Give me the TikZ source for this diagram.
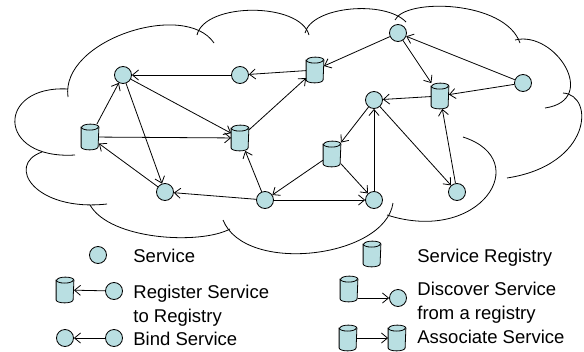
\documentclass[tikz,border=0pt]{standalone}
\usepackage{fontspec}
\setmainfont{Liberation Sans}
\usetikzlibrary{arrows.meta}
\definecolor{svcfill}{RGB}{185,223,226}
\begin{document}
\begin{tikzpicture}[x=1pt,y=-1pt,line width=0.8pt,
    service/.style={shape=circle, draw, fill=svcfill, minimum size=17pt, inner sep=0pt},
    registry/.style={shape=rectangle, minimum width=17pt, minimum height=25pt, inner sep=0pt,
        append after command={\pgfextra{
            \draw[fill=svcfill] ([yshift=-3pt]\tikzlastnode.north west)
                -- ([yshift=3pt]\tikzlastnode.south west)
                arc[start angle=180, end angle=360, x radius=8.5pt, y radius=3pt]
                -- ([yshift=-3pt]\tikzlastnode.north east)
                arc[start angle=0, end angle=180, x radius=8.5pt, y radius=3pt] -- cycle;
            \draw ([yshift=-3pt]\tikzlastnode.north west)
                arc[start angle=180, end angle=360, x radius=8.5pt, y radius=3pt];
        }}},
    link/.style={-{Straight Barb[length=6pt,width=10pt]}},
    legendtext/.style={anchor=base west, align=left, inner sep=0pt, font=\fontsize{18.5}{24}\selectfont}]
    \useasboundingbox (0,0) rectangle (584,351);
    \draw (68,89) .. controls (-4,85) and (-4,160) .. (75,155);
    \draw (68,97) .. controls (60,40) and (185,0) .. (214,43);
    \draw (197,35) .. controls (205,2) and (300,2) .. (309,35);
    \draw (305,33) .. controls (312,6) and (385,0) .. (406,22);
    \draw (395,20) .. controls (405,-2) and (505,0) .. (520,43);
    \draw (515,40) .. controls (555,30) and (600,100) .. (545,108);
    \draw (563,93) .. controls (595,95) and (592,165) .. (507,178);
    \draw (463,137) .. controls (535,160) and (480,245) .. (387,215);
    \draw (393,203) .. controls (385,258) and (245,275) .. (223,220);
    \draw (90,205) .. controls (110,240) and (200,245) .. (230,229);
    \draw (42,152) .. controls (5,165) and (35,212) .. (107,204);
    \node[service] (s1) at (123,75) {};
    \node[service] (s2) at (240,75) {};
    \node[service] (s3) at (398,33) {};
    \node[service] (s4) at (374,100) {};
    \node[service] (s5) at (523,83) {};
    \node[service] (s6) at (165,192) {};
    \node[service] (s7) at (265,200) {};
    \node[service] (s8) at (374,200) {};
    \node[service] (s9) at (457,192) {};
    \node[registry] (r1) at (90,137) {};
    \node[registry] (r2) at (240,138) {};
    \node[registry] (r3) at (315,70) {};
    \node[registry] (r4) at (440,96) {};
    \node[registry] (r5) at (332,154) {};
    \draw[link] (s2) -- (s1);
    \draw[link] (r3) -- (s2);
    \draw[link] (r1) -- (s1);
    \draw[link] (r1) -- (r2);
    \draw[link] (s1) -- (r2);
    \draw[link] (s1) -- (s6);
    \draw[link] (s6) -- (r1);
    \draw[link] (s7) -- (s6);
    \draw[link] (s7) -- (r2);
    \draw[link] (r2) -- (r3);
    \draw[link] (s3) -- (r3);
    \draw[link] (s3) -- (r4);
    \draw[link] (s5) -- (s3);
    \draw[link] (s5) -- (r4);
    \draw[link] (r4) -- (s4);
    \draw[link] (s9) -- (r4);
    \draw[link] (s4) -- (s9);
    \draw[link] (s4) -- (r5);
    \draw[link] (r5) -- (s7);
    \draw[link] (r5) -- (s8);
    \draw[link] (s7) -- (s8);
    \draw[link] (s8) -- (s4);
    \node[service] (lgsvc) at (98,255) {};
    \node[legendtext] (tsvc) at (133,262) {Service};
    \node[registry] (lgreg) at (372,254) {};
    \node[legendtext] (treg) at (417,262) {Service Registry};
    \node[registry] (lgregA) at (65,290) {};
    \node[service] (lgsvcA) at (114,291) {};
    \draw[link] (lgsvcA) -- (lgregA);
    \node[legendtext] (tregister) at (133,322) {Register Service\\to Registry};
    \node[registry] (lgregB) at (349,289) {};
    \node[service] (lgsvcB) at (398,298) {};
    \draw[link] (lgregB.east |- lgsvcB) -- (lgsvcB);
    \node[legendtext] (tdiscover) at (417,319) {Discover Service\\from a registry};
    \node[service] (lgsvcC) at (65,338) {};
    \node[service] (lgsvcD) at (114,338) {};
    \draw[link] (lgsvcD) -- (lgsvcC);
    \node[legendtext] (tbind) at (133,345) {Bind Service};
    \node[registry] (lgregC) at (348,338) {};
    \node[registry] (lgregD) at (397,338) {};
    \draw[link] (lgregC) -- (lgregD);
    \node[legendtext] (tassoc) at (417,343) {Associate Service};
\end{tikzpicture}
\end{document}
